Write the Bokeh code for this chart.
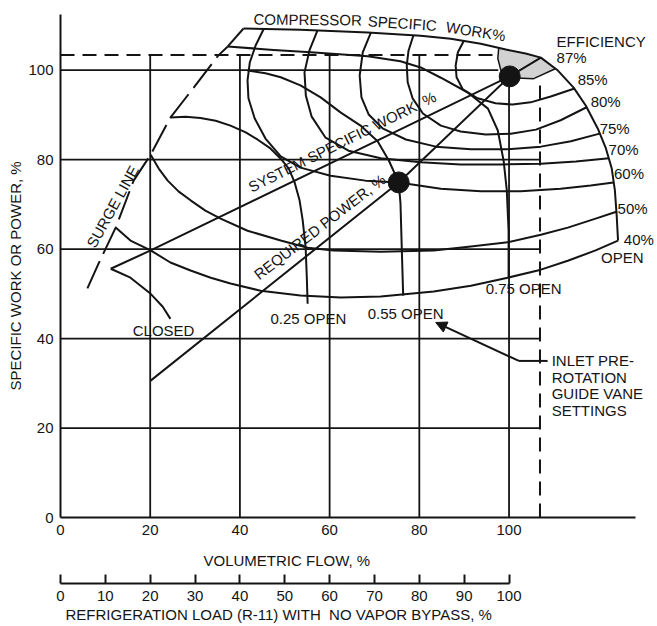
from bokeh.plotting import figure
from bokeh.models import LinearAxis, Range1d, FixedTicker, Arrow, NormalHead, ColumnDataSource, Title
from bokeh.core.properties import value
from bokeh.embed import file_html
from bokeh.resources import INLINE

INK = "#141414"
FONT = "Liberation Sans"
FS = "15px"

# ---------------- axes ----------------
flow_ticks = [0, 20, 40, 60, 80, 100]
work_ticks = [0, 20, 40, 60, 80, 100]
load_ticks = [0, 10, 20, 30, 40, 50, 60, 70, 80, 90, 100]

flow_title = "VOLUMETRIC FLOW, %"
work_title = "SPECIFIC WORK OR POWER, %"
load_title = "REFRIGERATION LOAD (R-11) WITH\u00a0\u00a0NO VAPOR BYPASS, %"

# ---------------- grid ----------------
grid_rows = [20, 40, 60, 80, 100]
grid_row_ends = [106.9, 106.9, 106.9, 106.9, 97.6]
grid_cols = [20, 40, 60, 80, 100]
grid_col_tops = [103.4, 103.4, 103.4, 103.4, 98.6]

# design limits (dashed)
max_work = 103.4
max_work_end = 97.3
max_flow = 106.9
max_flow_top = 97.9

# ---------------- surge line ----------------
surge_flow = [6.0, 8.5, 12.3, 16.3, 20.1, 24.5, 29.7, 35.2, 37.3]
surge_work = [51.2, 56.8, 64.8, 75.3, 81.1, 89.4, 96.1, 103.3, 105.3]
surge_cap_flow = [37.3, 40.8]
surge_cap_work = [105.3, 109.3]

# ---------------- inlet guide vane settings ----------------
open_flow = [40.8, 53.5, 68.5, 80.3, 87.0, 93.7, 99.3, 103.7, 107.1, 110.9, 114.4,
             117.1, 119.8, 121.6, 122.9, 123.6, 124.0, 124.3]
open_work = [109.3, 109.0, 108.4, 107.7, 107.0, 105.9, 104.6, 103.7, 102.8, 99.9, 96.1,
             92.1, 86.9, 82.5, 78.0, 73.1, 67.5, 61.9]

vane75_flow = [37.3, 47.5, 55.8, 68.5, 75.8, 80.3, 84.8, 90.8, 95.3, 97.5, 98.8, 99.5, 99.9, 99.9]
vane75_work = [105.3, 104.5, 104.0, 103.1, 102.0, 100.6, 98.3, 95.0, 91.4, 86.5, 79.7, 73.1, 64.1, 53.6]

vane55_flow = [41.7, 45.7, 49.1, 53.5, 58.0, 62.5, 66.9, 70.7, 73.2, 75.4, 75.8, 76.1, 76.4]
vane55_work = [99.9, 99.3, 98.4, 96.6, 93.9, 90.5, 87.6, 84.1, 79.8, 74.9, 70.2, 59.7, 49.6]

vane25_flow = [24.5, 27.9, 31.2, 34.6, 37.9, 41.3, 43.9, 46.8, 49.1, 50.9, 52.2, 53.3, 54.0, 54.65, 54.9, 55.1]
vane25_work = [89.4, 89.6, 89.3, 88.7, 87.6, 86.1, 84.5, 82.5, 80.2, 78.0, 74.9, 70.9, 66.4, 60.4, 54.1, 47.8]

closed_flow = [11.2, 15.6, 20.1, 22.8, 24.5]
closed_work = [55.6, 53.6, 50.0, 47.1, 44.4]

# ---------------- efficiency contours ----------------
eff87_flow = [97.7, 97.5, 98.2, 100.4, 105.5, 110.3, 107.1, 103.7, 99.3]
eff87_work = [105.0, 102.6, 99.9, 98.3, 98.1, 100.3, 102.8, 103.7, 104.6]

eff85_flow = [89.9, 88.6, 88.1, 88.3, 89.7, 93.0, 97.0, 100.8, 104.8, 109.3, 114.6]
eff85_work = [106.5, 104.0, 101.0, 98.4, 95.7, 93.7, 92.6, 92.3, 92.8, 94.1, 95.9]

eff80_flow = [78.7, 77.6, 77.2, 77.4, 78.5, 80.8, 84.8, 89.2, 94.8, 100.4, 106.0, 111.5, 117.3]
eff80_work = [107.8, 104.4, 101.1, 97.3, 93.7, 90.3, 87.6, 86.3, 85.6, 85.8, 86.7, 88.8, 91.7]

eff75_flow = [69.2, 67.4, 66.7, 67.1, 68.7, 71.8, 77.0, 83.7, 91.5, 99.3, 107.1, 113.8, 120.2]
eff75_work = [108.4, 104.0, 98.8, 93.9, 90.1, 87.0, 84.5, 82.9, 82.3, 82.3, 82.9, 84.1, 85.8]

eff70_flow = [57.3, 55.5, 54.4, 54.7, 56.0, 59.1, 64.2, 71.4, 80.3, 89.2, 98.2, 107.1, 114.9, 122.3]
eff70_work = [108.9, 104.4, 99.5, 94.3, 89.6, 84.9, 82.0, 80.3, 79.4, 78.9, 78.9, 79.1, 79.6, 80.3]

eff60_flow = [45.3, 43.5, 42.2, 41.7, 41.9, 43.3, 45.7, 49.1, 53.5, 60.2, 68.0, 75.4, 84.8,
              93.7, 102.6, 111.5, 118.2, 123.3]
eff60_work = [109.2, 105.5, 101.7, 97.7, 93.7, 89.2, 84.7, 80.7, 78.2, 76.4, 75.3, 74.9, 73.5,
              72.9, 72.9, 73.5, 74.2, 74.9]

eff50_flow = [20.1, 21.9, 23.9, 26.3, 29.0, 32.3, 35.7, 41.7, 49.1, 55.1, 60.9, 71.4, 83.2,
              91.5, 99.7, 107.1, 113.1, 119.3, 124.1]
eff50_work = [81.1, 78.0, 75.3, 72.9, 70.9, 68.6, 66.8, 64.1, 61.9, 60.3, 59.7, 59.4, 59.7,
              60.6, 61.5, 63.2, 64.8, 66.8, 68.4]

eff40_flow = [12.3, 15.6, 20.1, 24.5, 29.0, 33.5, 37.9, 44.6, 53.5, 62.5, 71.4, 83.2, 91.5,
              99.7, 107.1, 113.1, 119.3, 124.3]
eff40_work = [64.8, 61.9, 59.7, 57.0, 55.2, 53.6, 52.3, 50.7, 49.6, 49.2, 49.4, 50.5, 51.8,
              53.6, 55.4, 57.4, 59.7, 61.9]

# ---------------- system and power ----------------
system_flow = [11.2, 20.1, 100.15, 107.1]
system_work = [55.6, 59.7, 98.6, 102.8]
power_flow = [20.1, 75.4, 100.15]
power_work = [30.6, 74.9, 98.6]

point_flow = [100.15, 75.4]
point_work = [98.6, 74.9]

# ---------------- annotations ----------------
note_text = ["EFFICIENCY", "87%", "85%", "80%", "75%", "70%", "60%", "50%", "40%", "OPEN",
             "0.75 OPEN", "0.55 OPEN", "0.25 OPEN", "CLOSED",
             "INLET PRE-", "ROTATION", "GUIDE VANE", "SETTINGS"]
note_x = [110.6, 110.6, 115.3, 118.2, 120.2, 122.2, 123.4, 124.2, 125.6, 120.5,
          94.8, 68.5, 46.8, 16.1, 109.5, 109.5, 109.5, 109.5]
note_y = [106.4, 102.8, 97.9, 93.0, 86.9, 82.2, 76.8, 69.0, 62.1, 58.1,
          51.1, 45.5, 44.4, 41.8, 35.0, 31.4, 27.8, 24.0]

tilted_text = ["SURGE LINE", "SYSTEM SPECIFIC WORK, %", "REQUIRED POWER, %",
               "COMPRESSOR", "SPECIFIC", "WORK%"]
tilted_x = [11.6, 62.8, 57.8, 55.1, 76.2, 92.6]
tilted_y = [69.5, 84.0, 65.0, 111.3, 110.5, 108.7]
tilted_deg = [61.0, 26.4, 37.7, -0.5, -4.0, -9.0]

pointer_flow = [108.6, 102.2, 83.65]
pointer_work = [35.0, 35.0, 43.6]

# ---------------- figure ----------------
p = figure(width=657, height=626, x_range=Range1d(0, 133.1), y_range=Range1d(0, 114),
           output_backend="svg", toolbar_location=None,
           x_axis_type=None, y_axis_type=None,
           min_border_left=60, min_border_right=0, min_border_top=7, min_border_bottom=109)
p.outline_line_color = None
p.background_fill_color = "white"
p.border_fill_color = "white"


def style_axis(ax):
    ax.axis_line_color = INK
    ax.axis_line_width = 2
    ax.major_tick_line_color = INK
    ax.major_tick_line_width = 2
    ax.minor_tick_line_color = None
    ax.major_label_text_font = FONT
    ax.major_label_text_font_size = FS
    ax.major_label_text_color = INK


def axis_title(text, **kw):
    return Title(text=text, text_font=FONT, text_font_size=FS, text_font_style="normal",
                 text_color=INK, **kw)


yax = LinearAxis(ticker=FixedTicker(ticks=work_ticks), bounds=(0, 112.4))
style_axis(yax)
yax.major_tick_out = 0
yax.major_tick_in = 0
yax.major_label_standoff = 7
p.add_layout(yax, "left")
p.add_layout(axis_title(work_title, align="left", offset=127, standoff=4,
                        vertical_align="bottom"), "left")

xax = LinearAxis(ticker=FixedTicker(ticks=flow_ticks), bounds=(0, 128.3))
style_axis(xax)
xax.major_tick_out = 0
xax.major_tick_in = 0
xax.major_label_standoff = 7
p.add_layout(xax, "below")
p.add_layout(axis_title(flow_title, align="left", offset=143, standoff=27,
                        vertical_align="middle"), "below")

lax = LinearAxis(ticker=FixedTicker(ticks=load_ticks), bounds=(0, 100))
style_axis(lax)
lax.major_tick_out = 0
lax.major_tick_in = 9
lax.major_label_standoff = 7
p.add_layout(lax, "below")
p.add_layout(axis_title(load_title, align="left", offset=5, standoff=4,
                        vertical_align="top"), "below")

# grid
p.segment(x0=[0] * len(grid_rows), y0=grid_rows, x1=grid_row_ends, y1=grid_rows,
          line_color=INK, line_width=1.8)
p.segment(x0=grid_cols, y0=[0] * len(grid_cols), x1=grid_cols, y1=grid_col_tops,
          line_color=INK, line_width=1.8)

# dashed maximum lines
p.segment(x0=[0], y0=[max_work], x1=[max_work_end], y1=[max_work],
          line_color=INK, line_width=2, line_dash="14 8")
p.segment(x0=[max_flow], y0=[0], x1=[max_flow], y1=[max_flow_top],
          line_color=INK, line_width=2, line_dash="14 8")

# peak efficiency island
p.patch(eff87_flow, eff87_work, fill_color="#d2d2d2", line_color=None)
p.line(eff87_flow[:6], eff87_work[:6], line_color=INK, line_width=1.5)

# surge line
p.line(surge_flow, surge_work, line_color=INK, line_width=2, line_dash="30 8")
p.line(surge_cap_flow, surge_cap_work, line_color=INK, line_width=2)

curves = [
    (open_flow, open_work), (vane75_flow, vane75_work), (vane55_flow, vane55_work),
    (vane25_flow, vane25_work), (closed_flow, closed_work),
    (eff85_flow, eff85_work), (eff80_flow, eff80_work), (eff75_flow, eff75_work),
    (eff70_flow, eff70_work), (eff60_flow, eff60_work), (eff50_flow, eff50_work),
    (eff40_flow, eff40_work),
    (system_flow, system_work), (power_flow, power_work),
]
for fx, fy in curves:
    p.line(fx, fy, line_color=INK, line_width=2, line_join="round")

p.scatter(point_flow, point_work, size=21, fill_color=INK, line_color=INK)

# pointer to the vane-setting curves
p.line(pointer_flow[:2], pointer_work[:2], line_color=INK, line_width=2)
p.add_layout(Arrow(end=NormalHead(size=11, fill_color=INK, line_color=INK),
                   x_start=pointer_flow[1], y_start=pointer_work[1],
                   x_end=pointer_flow[2], y_end=pointer_work[2],
                   line_color=INK, line_width=2))

notes = ColumnDataSource(dict(x=note_x, y=note_y, text=note_text))
p.text(x="x", y="y", text="text", source=notes, text_font=value(FONT), text_font_size=FS,
       text_color=INK, text_align="left", text_baseline="middle")

tilted = ColumnDataSource(dict(x=tilted_x, y=tilted_y, text=tilted_text, angle=tilted_deg))
p.text(x="x", y="y", text="text", angle="angle", angle_units="deg", source=tilted,
       text_font=value(FONT), text_font_size=FS, text_color=INK,
       text_align="center", text_baseline="middle")

open("out.html", "w").write(file_html(p, INLINE))
